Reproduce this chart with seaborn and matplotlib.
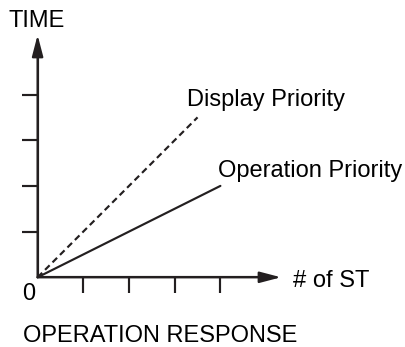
import matplotlib
matplotlib.use("Agg")
import matplotlib.pyplot as plt
import seaborn as sns
import pandas as pd

# ---- data (in tick units) ----
series_names = ["Display Priority", "Operation Priority"]
num_st_display = [0, 3.5]
time_display = [0, 3.5]
num_st_operation = [0, 4]
time_operation = [0, 2]
x_ticks = [1, 2, 3, 4]
y_ticks = [1, 2, 3, 4]
x_label = "# of ST"
y_label = "TIME"
origin_label = "0"
title = "OPERATION RESPONSE"

sns.set_theme(style="white")
plt.rcParams["font.family"] = ["Liberation Sans", "DejaVu Sans"]

W, H = 406, 347
DPI = 100
U = 45.7          # pixels per tick unit
OX, OY = 37.6, 277.3  # origin in pixel coords (from top)

def px(x):
    return (x - OX) / U

def py(y):
    return (OY - y) / U

fig = plt.figure(figsize=(W / DPI, H / DPI), dpi=DPI)
ax = fig.add_axes([0, 0, 1, 1])
ax.set_xlim(px(0), px(W))
ax.set_ylim(py(H), py(0))

ink = "#231f20"
lw = 1.55

df = pd.DataFrame({
    "x": num_st_display + num_st_operation,
    "y": time_display + time_operation,
    "series": [series_names[0]] * len(num_st_display) + [series_names[1]] * len(num_st_operation),
})
sns.lineplot(data=df, x="x", y="y", style="series", style_order=series_names,
             dashes={series_names[0]: (3.0, 1.9), series_names[1]: ""},
             color=ink, linewidth=lw, legend=False, ax=ax, sort=False)
ax.set_xlabel("")
ax.set_ylabel("")

# axes as arrows
for name in ["top", "right"]:
    ax.spines[name].set_visible(False)
x_tip = px(281)
y_tip = py(35)
ax.spines["left"].set_position(("data", 0))
ax.spines["bottom"].set_position(("data", 0))
ax.spines["left"].set_bounds(0, y_tip - 0.3)
ax.spines["bottom"].set_bounds(0, x_tip - 0.3)
for name in ["left", "bottom"]:
    ax.spines[name].set_color(ink)
    ax.spines[name].set_linewidth(lw)

arrow_style = "-|>,head_length=13,head_width=3.4"
ax.annotate("", xy=(x_tip, 0), xytext=(0, 0),
            arrowprops=dict(arrowstyle=arrow_style, color=ink, lw=lw,
                            shrinkA=0, shrinkB=0, mutation_scale=1))
ax.annotate("", xy=(0, y_tip), xytext=(0, 0),
            arrowprops=dict(arrowstyle=arrow_style, color=ink, lw=lw,
                            shrinkA=0, shrinkB=0, mutation_scale=1))

ax.set_xticks(x_ticks)
ax.set_yticks(y_ticks)
ax.set_xticklabels([])
ax.set_yticklabels([])
ax.tick_params(axis="both", direction="out", length=11.3, width=lw, color=ink,
               bottom=True, left=True)
ax.grid(False)

fs = 17.05
tkw = dict(fontsize=fs, color="black", va="baseline", ha="left")
ax.text(px(9), py(27), y_label, **tkw)
ax.text(px(22), py(300), origin_label, **tkw)
ax.text(px(23), py(342), title, **tkw)
ax.text(px(293), py(287), x_label, **tkw)
ax.text(px(187), py(106), series_names[0], **tkw)
ax.text(px(218.5), py(177.5), series_names[1], **tkw)

fig.savefig("out.png", dpi=DPI, facecolor="white")
